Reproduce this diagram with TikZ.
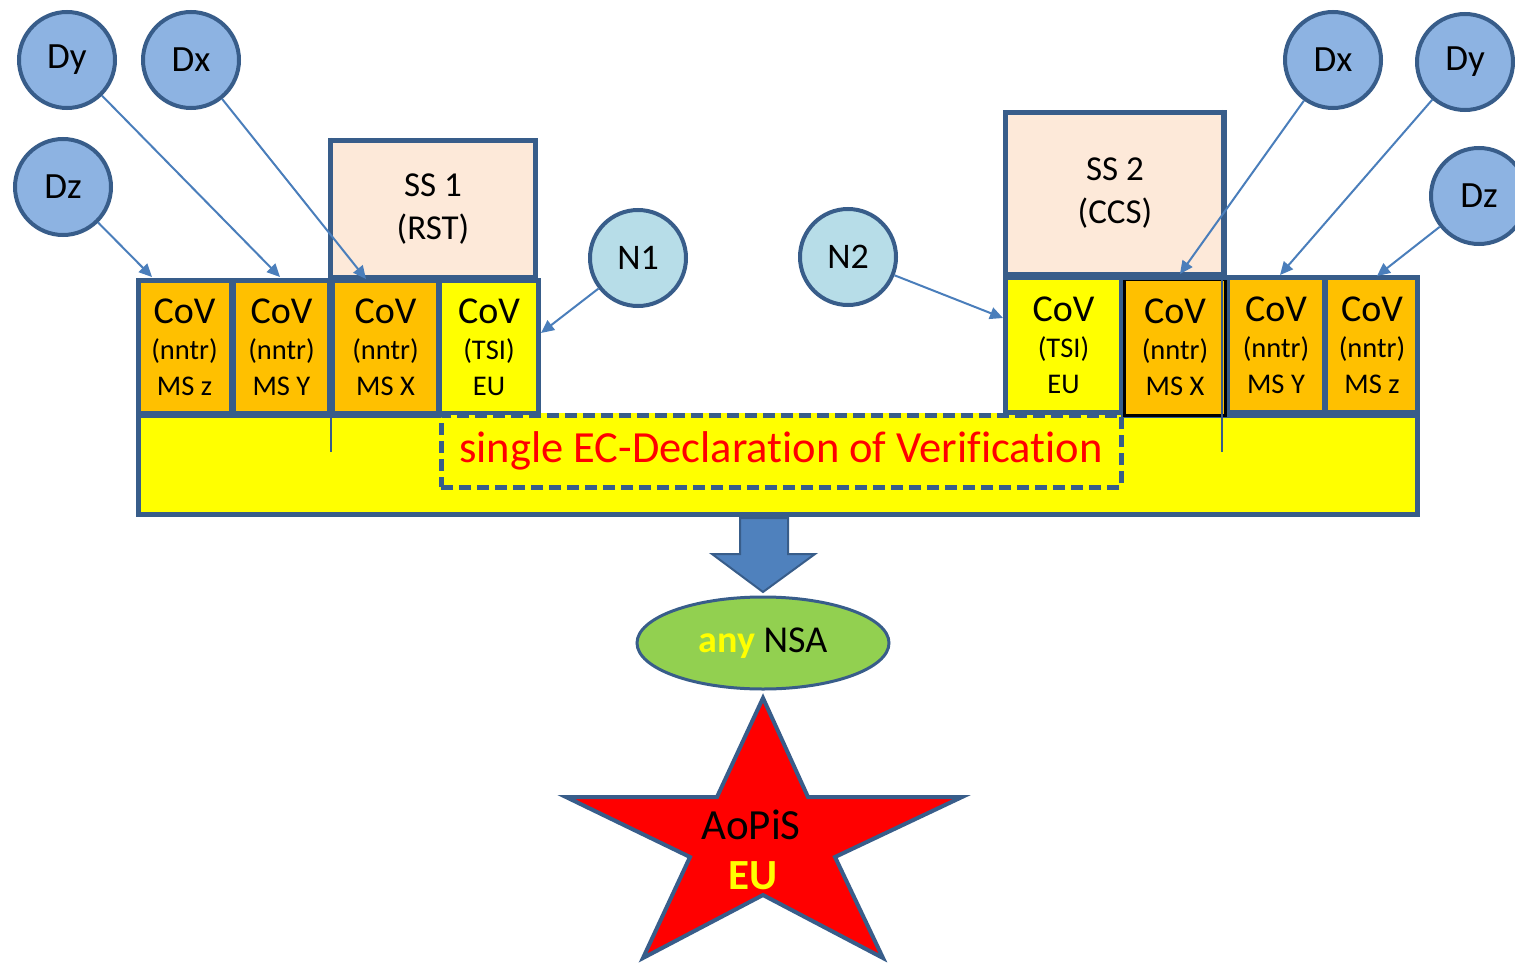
\documentclass[tikz,border=0pt]{standalone}
\usepackage{fontspec}
\setmainfont{Carlito}[Ligatures=NoCommon]
\usetikzlibrary{arrows.meta,shapes.geometric}
\definecolor{bblue}{HTML}{385D8A}
\definecolor{dfill}{HTML}{8DB3E2}
\definecolor{nfill}{HTML}{B7DDE8}
\definecolor{orng}{HTML}{FFC000}
\definecolor{yel}{HTML}{FFFF00}
\definecolor{peach}{HTML}{FDE9D9}
\definecolor{arr}{HTML}{4A7EBB}
\definecolor{barrow}{HTML}{4F81BD}
\definecolor{grn}{HTML}{92D050}
\newcommand{\covtext}[2]{{\fontsize{38}{36}\selectfont CoV}\\#1\\#2}
\begin{document}
\begin{tikzpicture}[x=1pt,y=-1pt,
  dcirc/.style={circle,draw=bblue,line width=4pt,fill=dfill,minimum size=96pt,inner sep=0pt,font=\fontsize{37}{40}\selectfont},
  ncirc/.style={dcirc,fill=nfill,font=\fontsize{36}{40}\selectfont},
  cell/.style={rectangle,inner sep=0pt,align=center,font=\fontsize{28.5}{36}\selectfont},
  ocell/.style={cell,fill=orng},
  ycell/.style={cell,fill=yel},
  ssbox/.style={rectangle,draw=bblue,line width=5pt,fill=peach,inner sep=0pt,align=center,font=\fontsize{35}{43}\selectfont},
  conn/.style={draw=arr,line width=2pt,-{Triangle[length=13pt,width=12pt]}},
  thin/.style={draw=bblue,line width=1.6pt},
]
\useasboundingbox (0,0) rectangle (1515,963);

% SS boxes
\node[ssbox,minimum width=205pt,minimum height=137pt] (ss1) at (433,209) {SS 1\\(RST)};
\node[ssbox,minimum width=219pt,minimum height=162pt] (ss2) at (1115,193.5) {SS 2\\(CCS)};

% yellow bar and group backgrounds
\fill[yel] (136,413) rectangle (1420,517);
\fill[bblue] (136,278) rectangle (540,418);
\fill[bblue] (1003,275) rectangle (1420,418);

% cells left
\node[ocell,minimum width=89pt,minimum height=128pt] (L1) at (184.5,347) {\covtext{(nntr)}{MS z}};
\node[ocell,minimum width=91pt,minimum height=128pt] (L2) at (281.5,347) {\covtext{(nntr)}{MS Y}};
\node[ocell,minimum width=101pt,minimum height=128pt] (L3) at (385.5,347) {\covtext{(nntr)}{MS X}};
\node[ycell,minimum width=94pt,minimum height=128pt] (L4) at (489,347) {\covtext{(TSI)}{EU}};
% cells right
\node[ycell,minimum width=111pt,minimum height=130pt] (R1) at (1063.5,345) {\covtext{(TSI)}{EU}};
\node[ocell,draw=black,line width=3pt,minimum width=101pt,minimum height=136pt] (R2) at (1175,347.5) {\covtext{(nntr)}{MS X}};
\node[ocell,minimum width=92pt,minimum height=130pt] (R3) at (1276,345) {\covtext{(nntr)}{MS Y}};
\node[ocell,minimum width=88pt,minimum height=130pt] (R4) at (1372,345) {\covtext{(nntr)}{MS z}};

% declaration box
\node[rectangle,draw=bblue,line width=5pt,dash pattern=on 12pt off 6pt,fill=yel,minimum width=680pt,minimum height=72pt,inner sep=0pt,text=red,font=\fontsize{44.5}{46}\selectfont] (decl) at (781,451) {single EC-Declaration of Verification};

% outline
\draw[bblue,line width=5pt] (538,413) -- (538,280.5) -- (138.5,280.5) -- (138.5,514.5) -- (1417.5,514.5) -- (1417.5,277.5) -- (1005.5,277.5) -- (1005.5,413);

% thin lines
\coordinate (tl) at (331,452);
\coordinate (tr) at (1222,452);
\draw[thin] (ss1.north west -| tl) -- (tl);
\draw[thin] (ss2.north east -| tr) -- (tr);

% circles
\node[dcirc] (DyL) at (67,60) {Dy};
\node[dcirc] (DxL) at (191,60) {Dx};
\node[dcirc] (DzL) at (63,187) {Dz};
\node[ncirc] (N1) at (638,258) {N1};
\node[ncirc] (N2) at (848,257) {N2};
\node[dcirc] (DxR) at (1333,60) {Dx};
\node[dcirc] (DyR) at (1465,62) {Dy};
\node[dcirc] (DzR) at (1479,196) {Dz};

% arrow targets
\coordinate (aDzL) at (152,277);
\coordinate (aDyL) at (280,277);
\coordinate (aDxL) at (366,279);
\coordinate (aN1) at (541,333);
\coordinate (aN2) at (1003,318);
\coordinate (aDxR) at (1180,274);
\coordinate (aDyR) at (1280,275);
\coordinate (aDzR) at (1377,276);
\draw[conn] (DzL) -- (aDzL);
\draw[conn] (DyL) -- (aDyL);
\draw[conn] (DxL) -- (aDxL);
\draw[conn] (N1) -- (aN1);
\draw[conn] (N2) -- (aN2);
\draw[conn] (DxR) -- (aDxR);
\draw[conn] (DyR) -- (aDyR);
\draw[conn] (DzR) -- (aDzR);

% block arrow
\draw[bblue,line width=2pt,fill=barrow,line join=miter] (740,518) -- (788,518) -- (788,554) -- (815,554) -- (763,592) -- (712,554) -- (740,554) -- cycle;

% ellipse
\node[ellipse,draw=bblue,line width=3pt,fill=grn,minimum width=252pt,minimum height=92pt,inner sep=0pt,font=\fontsize{38}{40}\selectfont] (nsa) at (763,643) {{\bfseries\color{yel}any} NSA};

% star
\draw[bblue,line width=4pt,fill=red,line join=miter] (763,698) -- (808,797) -- (962,797) -- (835,857) -- (883,958) -- (763,895) -- (643,958) -- (690,857) -- (566,797) -- (717,797) -- cycle;
\node[font=\fontsize{43}{44}\selectfont] (aopis) at (751,825) {AoPiS};
\node[font=\fontsize{43}{44}\selectfont\bfseries,text=yel] (eu) at (753,876) {EU};
\end{tikzpicture}
\end{document}
